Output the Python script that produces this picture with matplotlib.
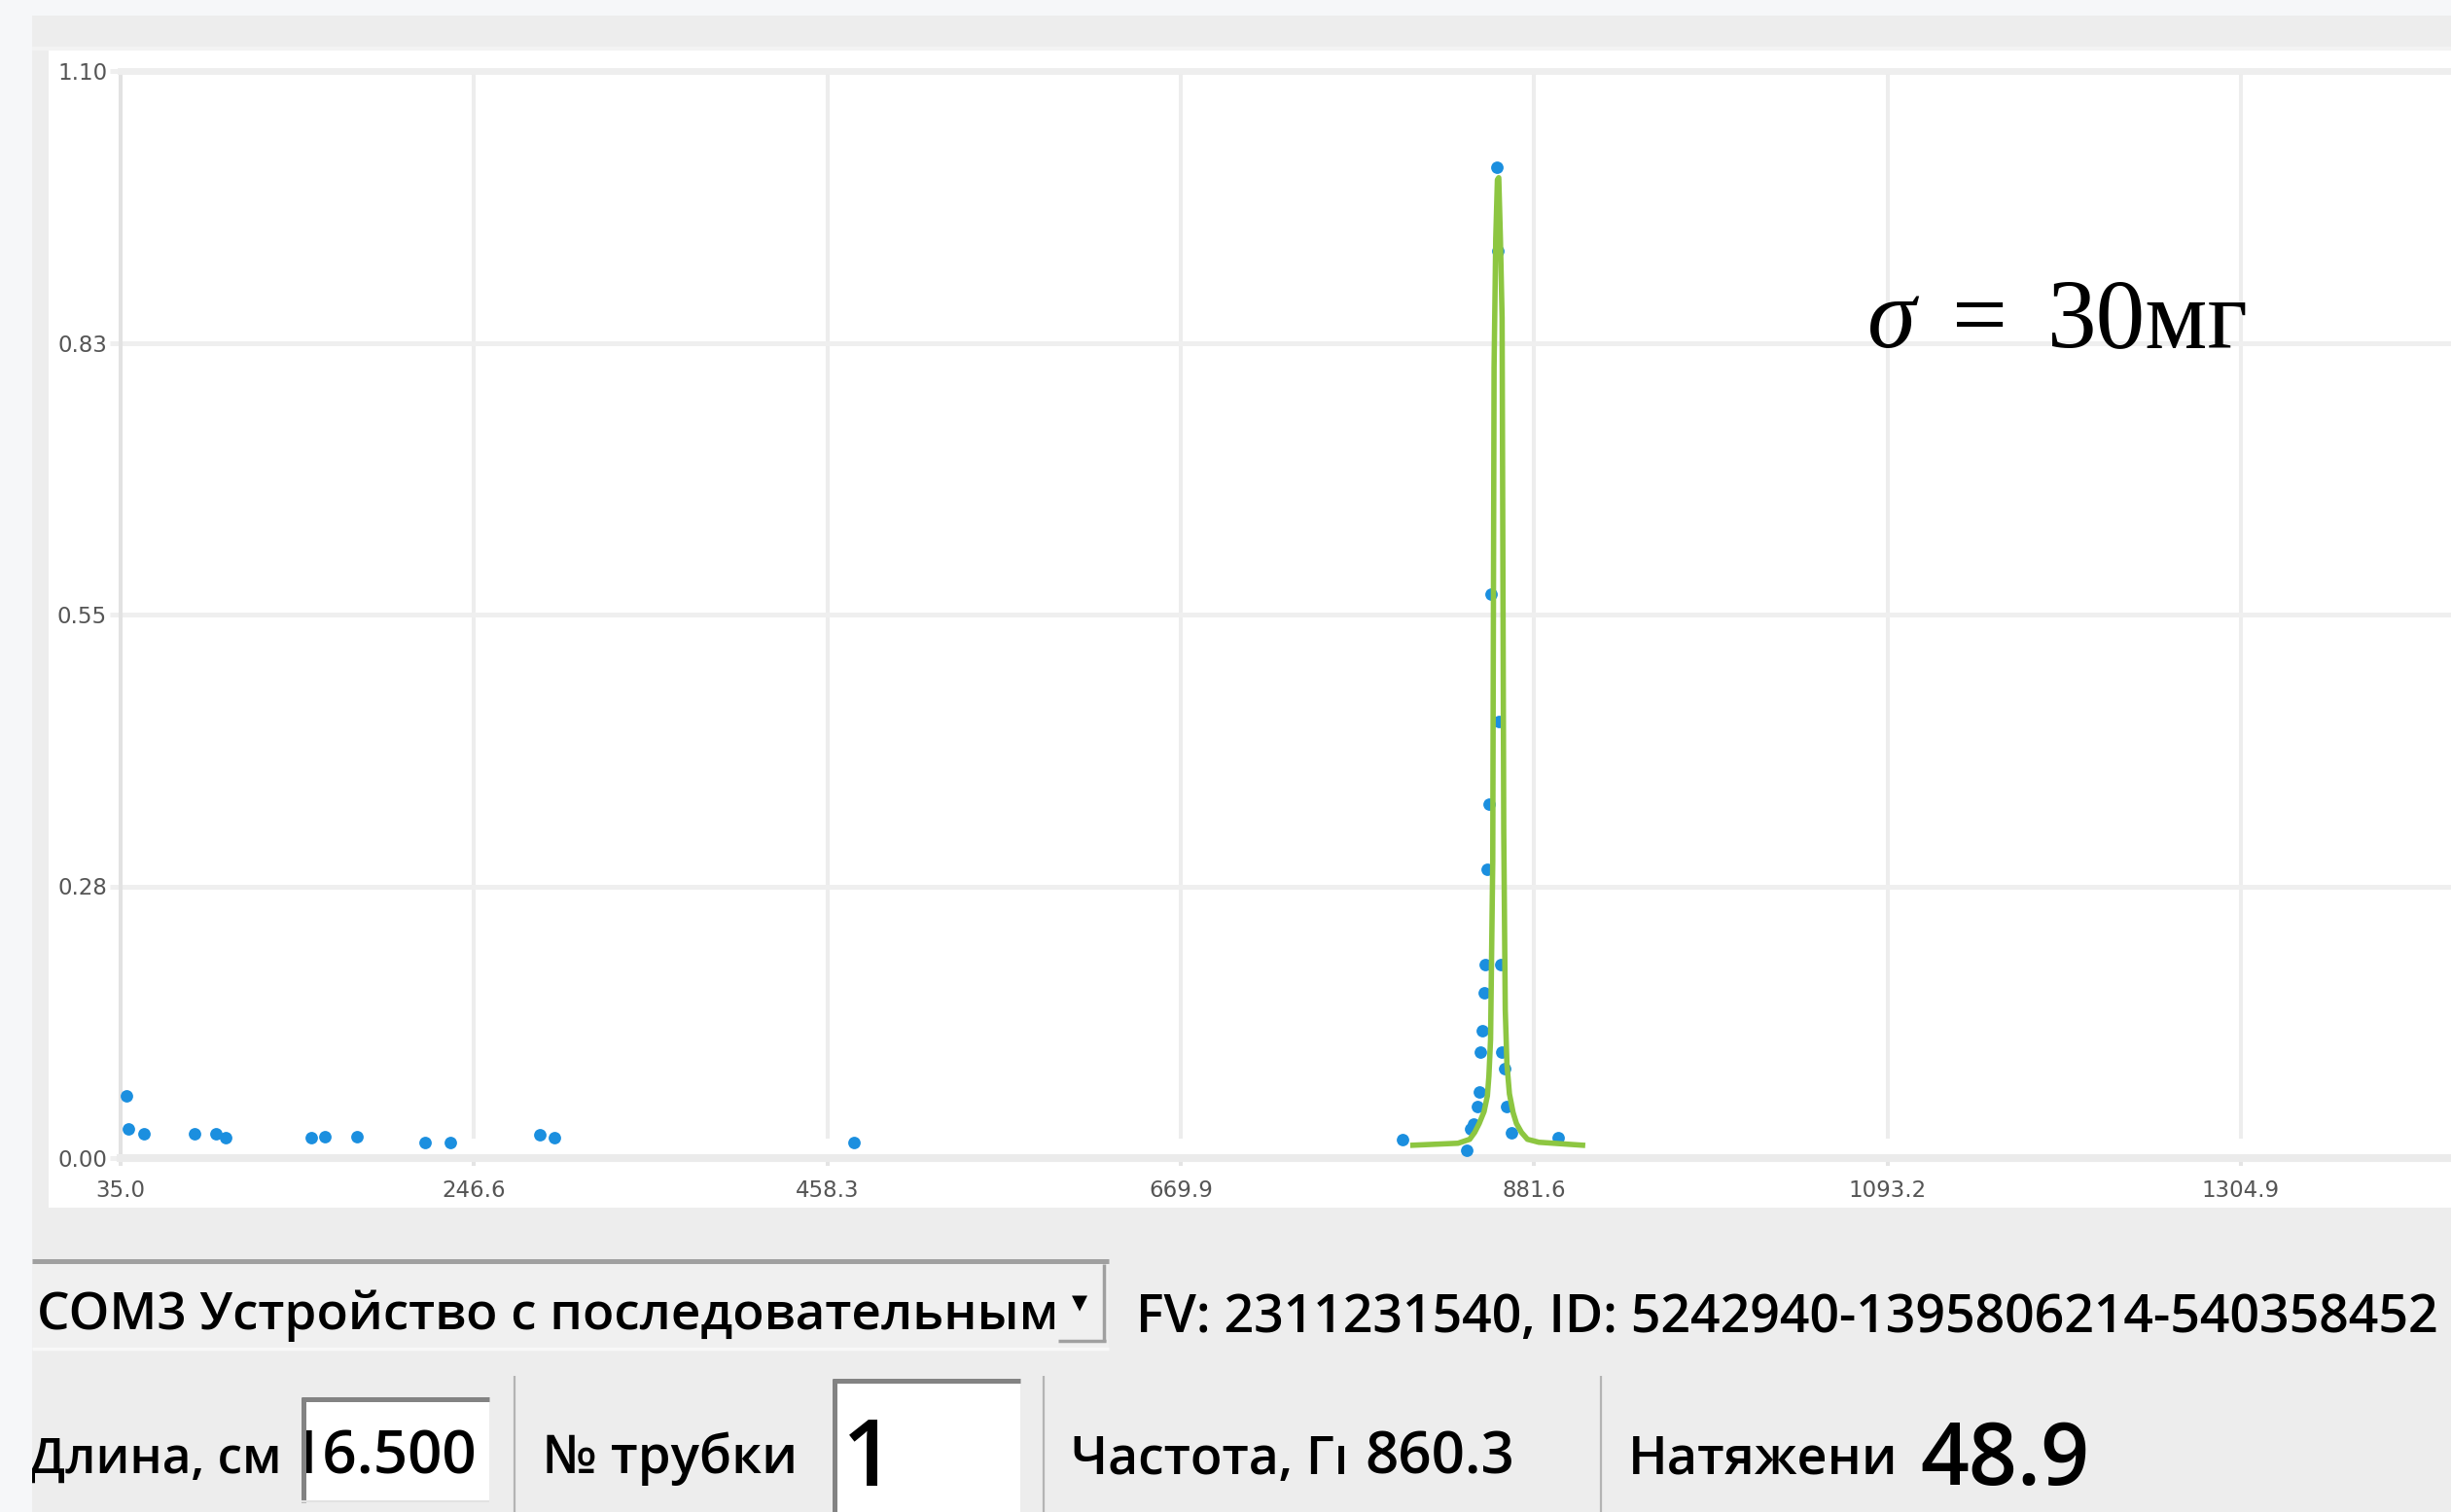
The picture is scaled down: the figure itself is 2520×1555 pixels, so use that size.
import matplotlib
matplotlib.use('Agg')
import matplotlib.pyplot as plt
from matplotlib.patches import Rectangle
from matplotlib.transforms import Bbox, TransformedBbox

plt.rcParams['font.family'] = ['Open Sans', 'DejaVu Sans']

# measured points (frequency, amplitude)
pts_x = [38.4, 39.7, 48.8, 79.0, 92.0, 98.0, 149.0, 157.6, 176.8, 217.5, 232.5,
         285.8, 295.0, 474.0, 803.0,
         841.0, 843.5, 845.5, 847.5, 848.5, 849.5, 850.5, 851.5, 852.5, 853.5,
         854.5, 855.5, 859.8, 859.4, 860.3, 861.8, 862.3, 864.0, 865.2, 867.9, 896.1]
pts_y = [0.063, 0.030, 0.025, 0.025, 0.025, 0.021, 0.021, 0.022, 0.022, 0.016, 0.016,
         0.024, 0.021, 0.016, 0.019,
         0.008, 0.030, 0.034, 0.052, 0.067, 0.107, 0.129, 0.167, 0.196, 0.292,
         0.358, 0.571, 0.918, 1.003, 0.442, 0.196, 0.107, 0.091, 0.052, 0.026, 0.021]

# fitted curve
fit_x = [809.0, 836.0, 843.0, 846.0, 848.7, 851.6, 853.6, 854.5, 855.5, 856.8, 857.6,
         858.6, 859.6, 860.4, 861.4, 862.4, 863.4, 864.3, 865.3, 866.8, 869.0, 871.0,
         874.0, 877.6, 884.4, 910.6]
fit_y = [0.013, 0.015, 0.019, 0.026, 0.035, 0.047, 0.063, 0.083, 0.120, 0.300, 0.800,
         0.930, 0.990, 0.992, 0.930, 0.850, 0.330, 0.150, 0.095, 0.065, 0.046, 0.035,
         0.026, 0.019, 0.016, 0.013]

x_tick_labels = ['35.0', '246.6', '458.3', '669.9', '881.6', '1093.2', '1304.9']
y_ticks = [0.0, 0.275, 0.55, 0.825, 1.10]
y_tick_labels = ['0.00', '0.28', '0.55', '0.83', '1.10']

port_text = 'COM3 Устройство с последовательным'
fw_text = 'FV: 2311231540, ID: 5242940-1395806214-540358452'
length_val = '16.500'
tube_val = '1'
freq_val = '860.3'
tension_val = '48.9'

W, H = 2520, 1555
fig = plt.figure(figsize=(W / 100, H / 100), dpi=100, facecolor='#f6f7f9')
renderer = fig.canvas.get_renderer()

# background / GUI layer in pixel coordinates
gui = fig.add_axes([0, 0, 1, 1], zorder=0)
gui.set_xlim(0, W)
gui.set_ylim(H, 0)
gui.axis('off')

def box(x0, y0, x1, y1, fc):
    gui.add_patch(Rectangle((x0, y0), x1 - x0, y1 - y0, facecolor=fc, edgecolor='none'))

def hline(y, x0, x1, c, lw):
    gui.plot([x0, x1], [y, y], color=c, lw=lw, solid_capstyle='butt')

def vline(x, y0, y1, c, lw):
    gui.plot([x, x], [y0, y1], color=c, lw=lw, solid_capstyle='butt')

box(33, 16, W, H, '#ededed')
box(33, 48, W, 52, '#f3f3f3')
box(50, 52, W, 1242, 'white')

# combobox
box(33, 1297, 1140, 1388, '#f0f0f0')
hline(1297, 33, 1140, '#a0a0a0', 3.6)
hline(1387, 33, 1140, '#f8f8f8', 2.5)
vline(1135, 1300, 1380, '#a0a0a0', 2.5)
hline(1379, 1088, 1137, '#a0a0a0', 2.5)
gui.text(1110, 1340, '▼', ha='center', va='center', fontsize=15, color='black',
         family='DejaVu Sans')

# input boxes and separators
box(310, 1437, 503, 1545, 'white')
hline(1439, 310, 503, '#838383', 3.6)
vline(312, 1437, 1545, '#838383', 3.6)
hline(1544, 310, 503, '#e2e2e2', 1.5)
box(856, 1418, 1049, H, 'white')
hline(1420, 856, 1049, '#838383', 3.6)
vline(858, 1418, H, '#838383', 3.6)
for sx in [529, 1073, 1646]:
    vline(sx, 1415, H, '#b4b4b4', 1.6)


def put(s, x, y, width=None, size=None, sample=None, clip=None, on=None, **kw):
    on = on or gui
    t = on.text(x, y, s, ha='left', va='baseline', fontsize=20, color='black',
                transform=gui.transData, clip_on=False, **kw)
    if width is not None:
        m = gui.text(0, 0, sample or s, fontsize=20, **kw)
        w = m.get_window_extent(renderer).width
        m.remove()
        size = 20 * width / w
    t.set_fontsize(size)
    if clip is not None:
        t.set_clip_box(TransformedBbox(Bbox.from_extents(*clip), gui.transData))
        t.set_clip_on(True)
    return size

ui = dict(weight='semibold')
put(port_text, 38, 1367, width=1050, clip=(33, 1290, 1084, 1400), **ui)
put(fw_text, 1168, 1370, width=1342, **ui)
put('Длина, см', 30, 1515, width=259, clip=(33, 1400, 300, H), **ui)
put(length_val, 296, 1515, width=194, clip=(315, 1441, 503, 1545), **ui)
put('№ трубки', 558, 1515, width=262, **ui)
put(tube_val, 866, 1528, size=68, **ui)
put('Частота, Гц', 1101, 1515, width=271, sample='Частота, Г', clip=(1095, 1400, 1382, H), **ui)
put(freq_val, 1403, 1515, width=154, **ui)
put('Натяжени', 1674, 1515, width=277, clip=(1665, 1400, 1952, H), **ui)
put(tension_val, 1974, 1527, width=174, **ui)

# chart
left, top, bottom = 124, 73, 1191
px_per_unit = (2304 - 124) / (1304.9 - 35.0)
x_max = 35.0 + (W - left) / px_per_unit
ax = fig.add_axes([left / W, (H - bottom) / H, (W - left) / W, (bottom - top) / H], zorder=1)
ax.set_xlim(35.0, x_max)
ax.set_ylim(0, 1.10)

x_ticks = [float(s) for s in x_tick_labels]
ax.set_xticks(x_ticks, x_tick_labels)
ax.set_yticks(y_ticks, y_tick_labels)

ax.vlines(x_ticks[1:], 0.02, 1.10, colors='#ededed', lw=2.9, zorder=0.5)
ax.hlines(y_ticks[1:-1], 35.0, x_max, colors='#efefef', lw=3.6, zorder=0.5)

ax.spines['right'].set_visible(False)
ax.spines['top'].set_color('#eeeeee')
ax.spines['top'].set_linewidth(5)
ax.spines['bottom'].set_color('#ebebeb')
ax.spines['bottom'].set_linewidth(5.8)
ax.spines['left'].set_color('#e2e2e2')
ax.spines['left'].set_linewidth(2.9)

ax.tick_params(axis='x', length=6, width=2.9, color='#e4e4e4', pad=10,
               labelsize=16.5, labelcolor='#555555')
ax.tick_params(axis='y', length=8, width=3.6, color='#efefef', pad=2,
               labelsize=16.5, labelcolor='#555555')
for lab in ax.get_xticklabels() + ax.get_yticklabels():
    lab.set_family('DejaVu Sans')

ax.scatter(pts_x, pts_y, s=85, color='#1b8fdf', linewidths=0, zorder=3, clip_on=False)
ax.plot(fit_x, fit_y, color='#8dc641', lw=4, zorder=4)

# annotation inside the plot, placed in screen pixels
serif = ['Liberation Serif', 'DejaVu Serif']
sz = put('30мг', 2105, 357, width=207, family=serif, on=ax)
put('σ', 1920, 357, size=sz, family=serif, style='italic', on=ax)
put('=', 2007, 357, size=sz, family=serif, on=ax)

fig.savefig('out.png', dpi=100, facecolor=fig.get_facecolor())
